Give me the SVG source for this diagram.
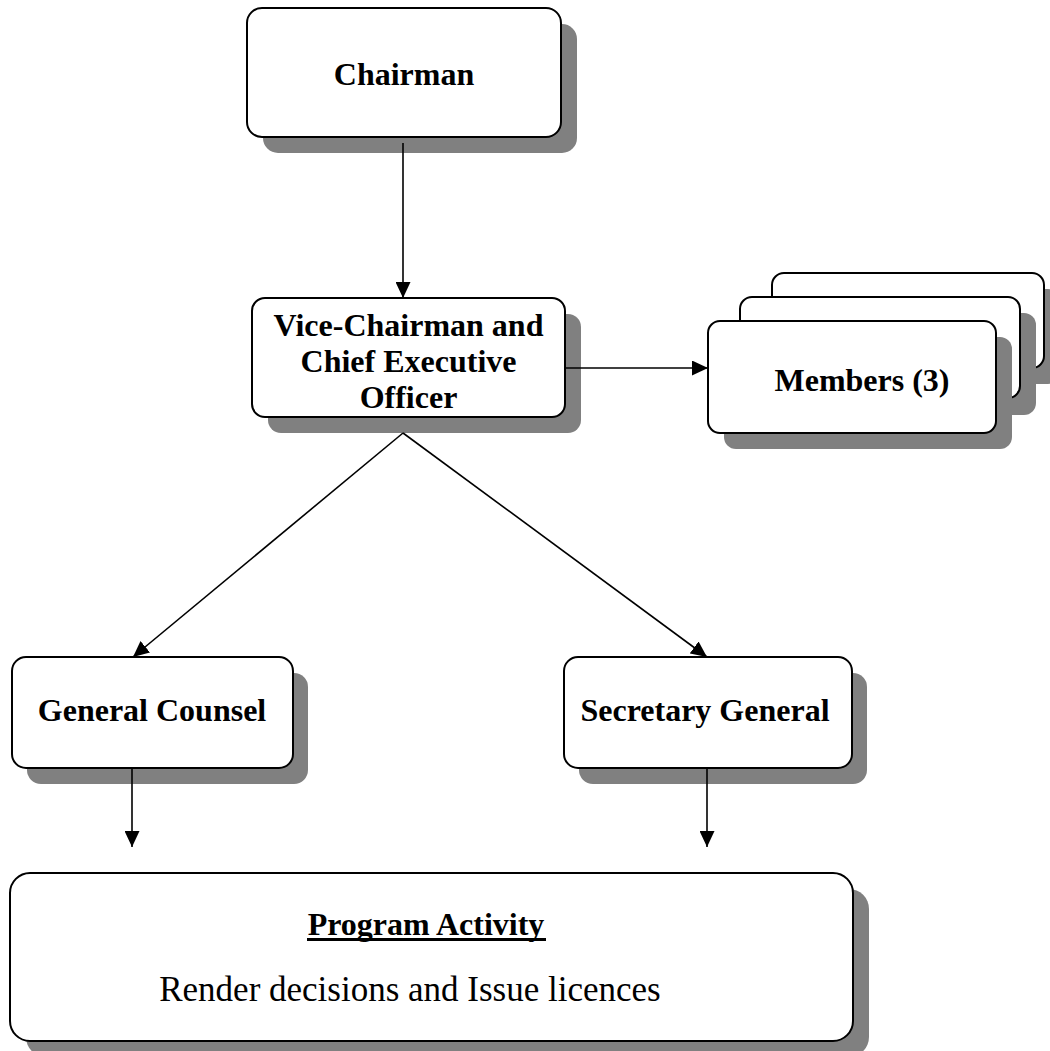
<svg xmlns="http://www.w3.org/2000/svg" width="1050" height="1051" viewBox="0 0 1050 1051">
<defs>
<style>
.box{fill:#fff;stroke:#000;stroke-width:2}
.sh{fill:#808080;stroke:none}
.b{font-family:"Liberation Serif","Times New Roman",serif;font-weight:bold;font-size:32px;fill:#000;text-anchor:middle}
.r{font-family:"Liberation Serif","Times New Roman",serif;font-size:35px;fill:#000;text-anchor:middle}
.ln{stroke:#000;stroke-width:1.6;fill:none;marker-end:url(#ah)}
</style>
<marker id="ah" markerUnits="userSpaceOnUse" markerWidth="16" markerHeight="15" refX="16" refY="7.5" orient="auto">
<path d="M0,0 L16,7.5 L0,15 z" fill="#000"/>
</marker>
</defs>
<rect width="1050" height="1051" fill="#fff"/>
<g id="chairman">
<rect class="sh" x="263" y="24" width="314" height="129" rx="15"/>
<rect class="box" x="247" y="8" width="314" height="129" rx="15"/>
<text class="b" x="404" y="85">Chairman</text>
</g>
<g id="vice-chairman">
<rect class="sh" x="268" y="314" width="313" height="119" rx="13"/>
<rect class="box" x="252" y="298" width="313" height="119" rx="13"/>
<text class="b" x="408.5" y="336">Vice-Chairman and</text>
<text class="b" x="408.5" y="372">Chief Executive</text>
<text class="b" x="408.5" y="408">Officer</text>
</g>
<g id="members">
<rect class="sh" x="788" y="289" width="272" height="95" rx="12"/>
<rect class="box" x="772" y="273" width="272" height="95" rx="12"/>
<rect class="sh" x="756" y="313" width="280" height="102" rx="12"/>
<rect class="box" x="740" y="297" width="280" height="101" rx="12"/>
<rect class="sh" x="724" y="337" width="288" height="112" rx="12"/>
<rect class="box" x="708" y="321" width="288" height="112" rx="12"/>
<text class="b" x="862" y="391">Members (3)</text>
</g>
<g id="general-counsel">
<rect class="sh" x="27" y="673" width="281" height="111" rx="14"/>
<rect class="box" x="12" y="657" width="281" height="111" rx="14"/>
<text class="b" x="152" y="721">General Counsel</text>
</g>
<g id="secretary-general">
<rect class="sh" x="579" y="673" width="288" height="111" rx="14"/>
<rect class="box" x="564" y="657" width="288" height="111" rx="14"/>
<text class="b" x="705" y="721">Secretary General</text>
</g>
<g id="program-activity">
<rect class="sh" x="26" y="889" width="843" height="168" rx="20"/>
<rect class="box" x="10" y="873" width="843" height="168" rx="20"/>
<text class="b" x="426" y="935">Program Activity</text>
<rect x="307" y="938" width="239" height="3" fill="#000"/>
<text class="r" x="410" y="1001">Render decisions and Issue licences</text>
</g>
<g id="connectors">
<line class="ln" x1="403" y1="143" x2="403" y2="298"/>
<line class="ln" x1="565" y1="368" x2="708" y2="368"/>
<line class="ln" x1="403" y1="433" x2="133" y2="657"/>
<line class="ln" x1="403" y1="433" x2="707" y2="657"/>
<line class="ln" x1="132" y1="768" x2="132" y2="847"/>
<line class="ln" x1="707" y1="768" x2="707" y2="847"/>
</g>
</svg>
